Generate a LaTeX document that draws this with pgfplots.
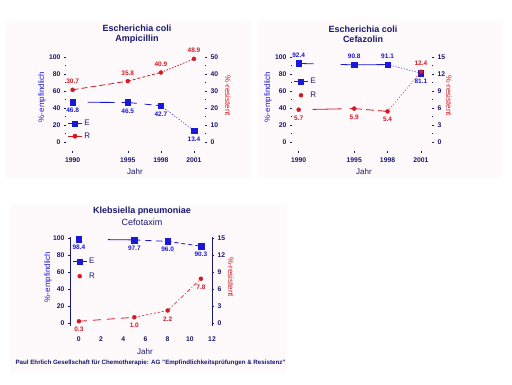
\documentclass[border=0pt]{standalone}
\usepackage{pgfplots}
\pgfplotsset{compat=1.18}
\usepackage{fontspec}
\setmainfont{Liberation Sans}
\definecolor{navy}{RGB}{24,24,110}
\definecolor{eblue}{RGB}{25,25,215}
\definecolor{rred}{RGB}{215,25,35}
\definecolor{bgpink}{RGB}{254,249,251}
\newcommand{\tl}{\fontsize{6.8}{8}\selectfont\bfseries}
\newcommand{\dl}{\fontsize{6.5}{7.5}\selectfont\bfseries}
\newcommand{\al}{\fontsize{8}{9}\selectfont}
\pgfplotsset{
  base/.style={scale only axis, anchor=south west, clip=false,
    tick align=outside, major tick length=2pt, minor tick length=1pt,
    every tick/.style={navy, line width=0.5pt},
    ticklabel style={font=\tl, text=navy},
    /pgf/number format/assume math mode=true,
    /pgf/number format/1000 sep={},
    legend image code/.code={\draw[mark repeat=2,mark phase=2,#1] plot coordinates {(0pt,0pt) (7pt,0pt) (14pt,0pt)};},
  },
  leg/.style={legend style={at={#1}, anchor=north west, draw=none, fill=none,
    font=\al, text=navy, inner xsep=0pt, inner ysep=0pt,
    /tikz/every even column/.append style={column sep=1pt}}, legend cell align=left},
  Eline/.style={eblue, line width=0.8pt},
  Rline/.style={rred, line width=0.8pt},
  Emark/.style={only marks, mark=square*, mark size=2.8pt, eblue,
    nodes near coords, point meta=explicit symbolic},
  Rmark/.style={only marks, mark=*, mark size=2.0pt, rred,
    nodes near coords, point meta=explicit symbolic},
  below/.style={every node near coord/.append style={anchor=north, yshift=-2.5pt, font=\dl, text=#1}},
  above/.style={every node near coord/.append style={anchor=south, yshift=2.5pt, font=\dl, text=#1}},
}
\begin{document}
\begin{tikzpicture}
\path (0pt,0pt) rectangle (512pt,-384pt);
\fill[bgpink] (6pt,-20pt) rectangle (252pt,-178pt);
\fill[bgpink] (258pt,-20pt) rectangle (502pt,-178pt);
\fill[bgpink] (10pt,-205pt) rectangle (287pt,-372pt);

% ---------------- Panel 1 ----------------
\node[font=\fontsize{9}{10}\selectfont\bfseries, text=navy, align=center] at (137pt,-34pt) {Escherichia coli\\Ampicillin};
\node[font=\al, text=navy] at (135pt,-172pt) {Jahr};
\node[font=\al, text=eblue, rotate=90] at (42pt,-97pt) {\%-empfindlich};
\node[font=\al, text=rred, rotate=-90] at (228pt,-96pt) {\%-resistent};
\begin{axis}[base, at={(66pt,-150.5pt)}, width=139pt, height=97.5pt,
  xmin=1989.4, xmax=2002, ymin=-10, ymax=104.7,
  axis y line*=left, axis x line*=bottom, axis line style={draw=none},
  xtick={1990,1995,1998,2001},
  x tick label style={yshift=-2pt},
  ytick={0,20,...,100}, minor y tick num=1,
  leg={(0.01,0.333)}, legend style={row sep=1.5pt}]
\addlegendimage{Eline, mark=square*, mark size=2.8pt}
\addlegendentry{E}
\addlegendimage{Rline, mark=*, mark size=2.0pt}
\addlegendentry{R}
\addplot[Eline, no marks, dash pattern=on 0pt off 15pt on 27pt off 7pt on 20pt] coordinates {(1990,46.8) (1995,46.5)};
\addplot[Eline, no marks, dash pattern=on 9pt off 8pt on 7pt off 4pt on 10pt] coordinates {(1995,46.5) (1998,42.7)};
\addplot[Eline, no marks, line width=0.6pt, dash pattern=on 1pt off 1.8pt] coordinates {(1998,42.7) (2001,13.4)};
\addplot[Emark, below=eblue] coordinates {(1990,46.8)[46.8] (1995,46.5)[46.5] (1998,42.7)[42.7] (2001,13.4)[13.4]};
\end{axis}
\begin{axis}[base, at={(66pt,-150.5pt)}, width=139pt, height=97.5pt,
  xmin=1989.4, xmax=2002, ymin=-5, ymax=52.35,
  axis y line*=right, axis x line=none, axis line style={draw=none},
  ytick={0,10,...,50}, minor y tick num=1]
\addplot[Rline, no marks, dash pattern=on 6pt off 3pt] coordinates {(1990,30.7) (1995,35.8)};
\addplot[Rline, no marks, dash pattern=on 3pt off 2pt] coordinates {(1995,35.8) (1998,40.9)};
\addplot[Rline, no marks, dash pattern=on 1.5pt off 1.5pt] coordinates {(1998,40.9) (2001,48.9)};
\addplot[Rmark, above=rred] coordinates {(1990,30.7)[30.7] (1995,35.8)[35.8] (1998,40.9)[40.9] (2001,48.9)[48.9]};
\end{axis}

% ---------------- Panel 2 ----------------
\node[font=\fontsize{9}{10}\selectfont\bfseries, text=navy, align=center] at (363pt,-34pt) {Escherichia coli\\Cefazolin};
\node[font=\al, text=navy] at (364pt,-172pt) {Jahr};
\node[font=\al, text=eblue, rotate=90] at (268pt,-97pt) {\%-empfindlich};
\node[font=\al, text=rred, rotate=-90] at (449pt,-96pt) {\%-resistent};
\begin{axis}[base, at={(292pt,-150.5pt)}, width=140pt, height=97.5pt,
  xmin=1989.4, xmax=2002, ymin=-10, ymax=104.7,
  axis y line*=left, axis x line*=bottom, axis line style={draw=none},
  xtick={1990,1995,1998,2001},
  x tick label style={yshift=-2pt},
  ytick={0,20,...,100}, minor y tick num=1,
  leg={(0.01,0.764)}, legend style={row sep=2.5pt}]
\addlegendimage{Eline, mark=square*, mark size=2.8pt}
\addlegendentry{E}
\addlegendimage{only marks, rred, mark=*, mark size=2.0pt}
\addlegendentry{R}
\addplot[Eline, no marks, dash pattern=on 15pt off 27pt on 30pt] coordinates {(1990,92.4) (1995,90.8)};
\addplot[Eline, no marks] coordinates {(1995,90.8) (1998,91.1)};
\addplot[Eline, no marks, line width=0.6pt, dash pattern=on 1pt off 1.8pt] coordinates {(1998,91.1) (2001,81.1)};
\addplot[Emark, above=eblue] coordinates {(1990,92.4)[92.4] (1995,90.8)[90.8] (1998,91.1)[91.1]};
\addplot[Emark, below=eblue] coordinates {(2001,81.1)[81.1]};
\end{axis}
\begin{axis}[base, at={(292pt,-150.5pt)}, width=140pt, height=97.5pt,
  xmin=1989.4, xmax=2002, ymin=-1.5, ymax=15.705,
  axis y line*=right, axis x line=none, axis line style={draw=none},
  ytick={0,3,...,15}, minor y tick num=1]
\addplot[Rline, no marks, dash pattern=on 0pt off 14pt on 29pt off 8pt on 10pt] coordinates {(1990,5.7) (1995,5.9)};
\addplot[Rline, no marks, dash pattern=on 8pt off 4pt] coordinates {(1995,5.9) (1998,5.4)};
\addplot[Rline, no marks, line width=0.6pt, dash pattern=on 1pt off 2pt] coordinates {(1998,5.4) (2001,12.4)};
\addplot[Rmark, below=rred] coordinates {(1990,5.7)[5.7] (1995,5.9)[5.9] (1998,5.4)[5.4]};
\addplot[Rmark, above=rred] coordinates {(2001,12.4)[12.4]};
\end{axis}

% ---------------- Panel 3 ----------------
\node[font=\fontsize{9}{10}\selectfont\bfseries, text=navy] at (142pt,-211pt) {Klebsiella pneumoniae};
\node[font=\fontsize{9}{10}\selectfont, text=navy] at (142pt,-222.5pt) {Cefotaxim};
\node[font=\al, text=navy] at (145pt,-352pt) {Jahr};
\node[font=\al, text=eblue, rotate=90] at (48pt,-277pt) {\%-empfindlich};
\node[font=\al, text=rred, rotate=-90] at (231pt,-277pt) {\%-resistent};
\node[font=\fontsize{6.2}{7}\selectfont\bfseries, text=navy, anchor=west] at (12pt,-363pt) {Paul Ehrlich Gesellschaft für Chemotherapie: AG "Empfindlichkeitsprüfungen \& Resistenz"};
\begin{axis}[base, at={(70pt,-325.5pt)}, width=142pt, height=88.4pt,
  xmin=-0.8, xmax=12, ymin=-3, ymax=101,
  axis y line*=left, axis x line*=bottom,
  x axis line style={draw=none}, y axis line style={navy, line width=0.7pt},
  xtick={0,2,...,12}, xtick style={draw=none},
  x tick label style={yshift=-6pt},
  ytick={0,20,...,100},
  leg={(0.015,0.786)}, legend style={row sep=3.5pt}]
\addlegendimage{Eline, mark=square*, mark size=2.8pt}
\addlegendentry{E}
\addlegendimage{only marks, rred, mark=*, mark size=2.0pt}
\addlegendentry{R}
\addplot[Eline, no marks, dash pattern=on 0pt off 29pt on 30pt] coordinates {(0,98.4) (5,97.7)};
\addplot[Eline, no marks, dash pattern=on 6pt off 5pt] coordinates {(5,97.7) (8,96.0)};
\addplot[Eline, no marks, dash pattern=on 4pt off 3pt] coordinates {(8,96.0) (11,90.3)};
\addplot[Emark, below=eblue] coordinates {(0,98.4)[98.4] (5,97.7)[97.7] (8,96.0)[96.0] (11,90.3)[90.3]};
\end{axis}
\begin{axis}[base, at={(70pt,-325.5pt)}, width=142pt, height=88.4pt,
  xmin=-0.8, xmax=12, ymin=-0.45, ymax=15.15,
  axis y line*=right, axis x line=none, y axis line style={navy, line width=0.7pt},
  ytick={0,3,...,15}]
\addplot[Rline, no marks, dash pattern=on 8pt off 6pt] coordinates {(0,0.3) (5,1.0)};
\addplot[Rline, no marks, line width=0.6pt, dash pattern=on 2pt off 2pt] coordinates {(5,1.0) (8,2.2)};
\addplot[Rline, no marks, line width=0.6pt, dash pattern=on 4pt off 2pt on 1pt off 2pt] coordinates {(8,2.2) (11,7.8)};
\addplot[Rmark, below=rred] coordinates {(0,0.3)[0.3] (5,1.0)[1.0] (8,2.2)[2.2] (11,7.8)[7.8]};
\end{axis}
\end{tikzpicture}
\end{document}
